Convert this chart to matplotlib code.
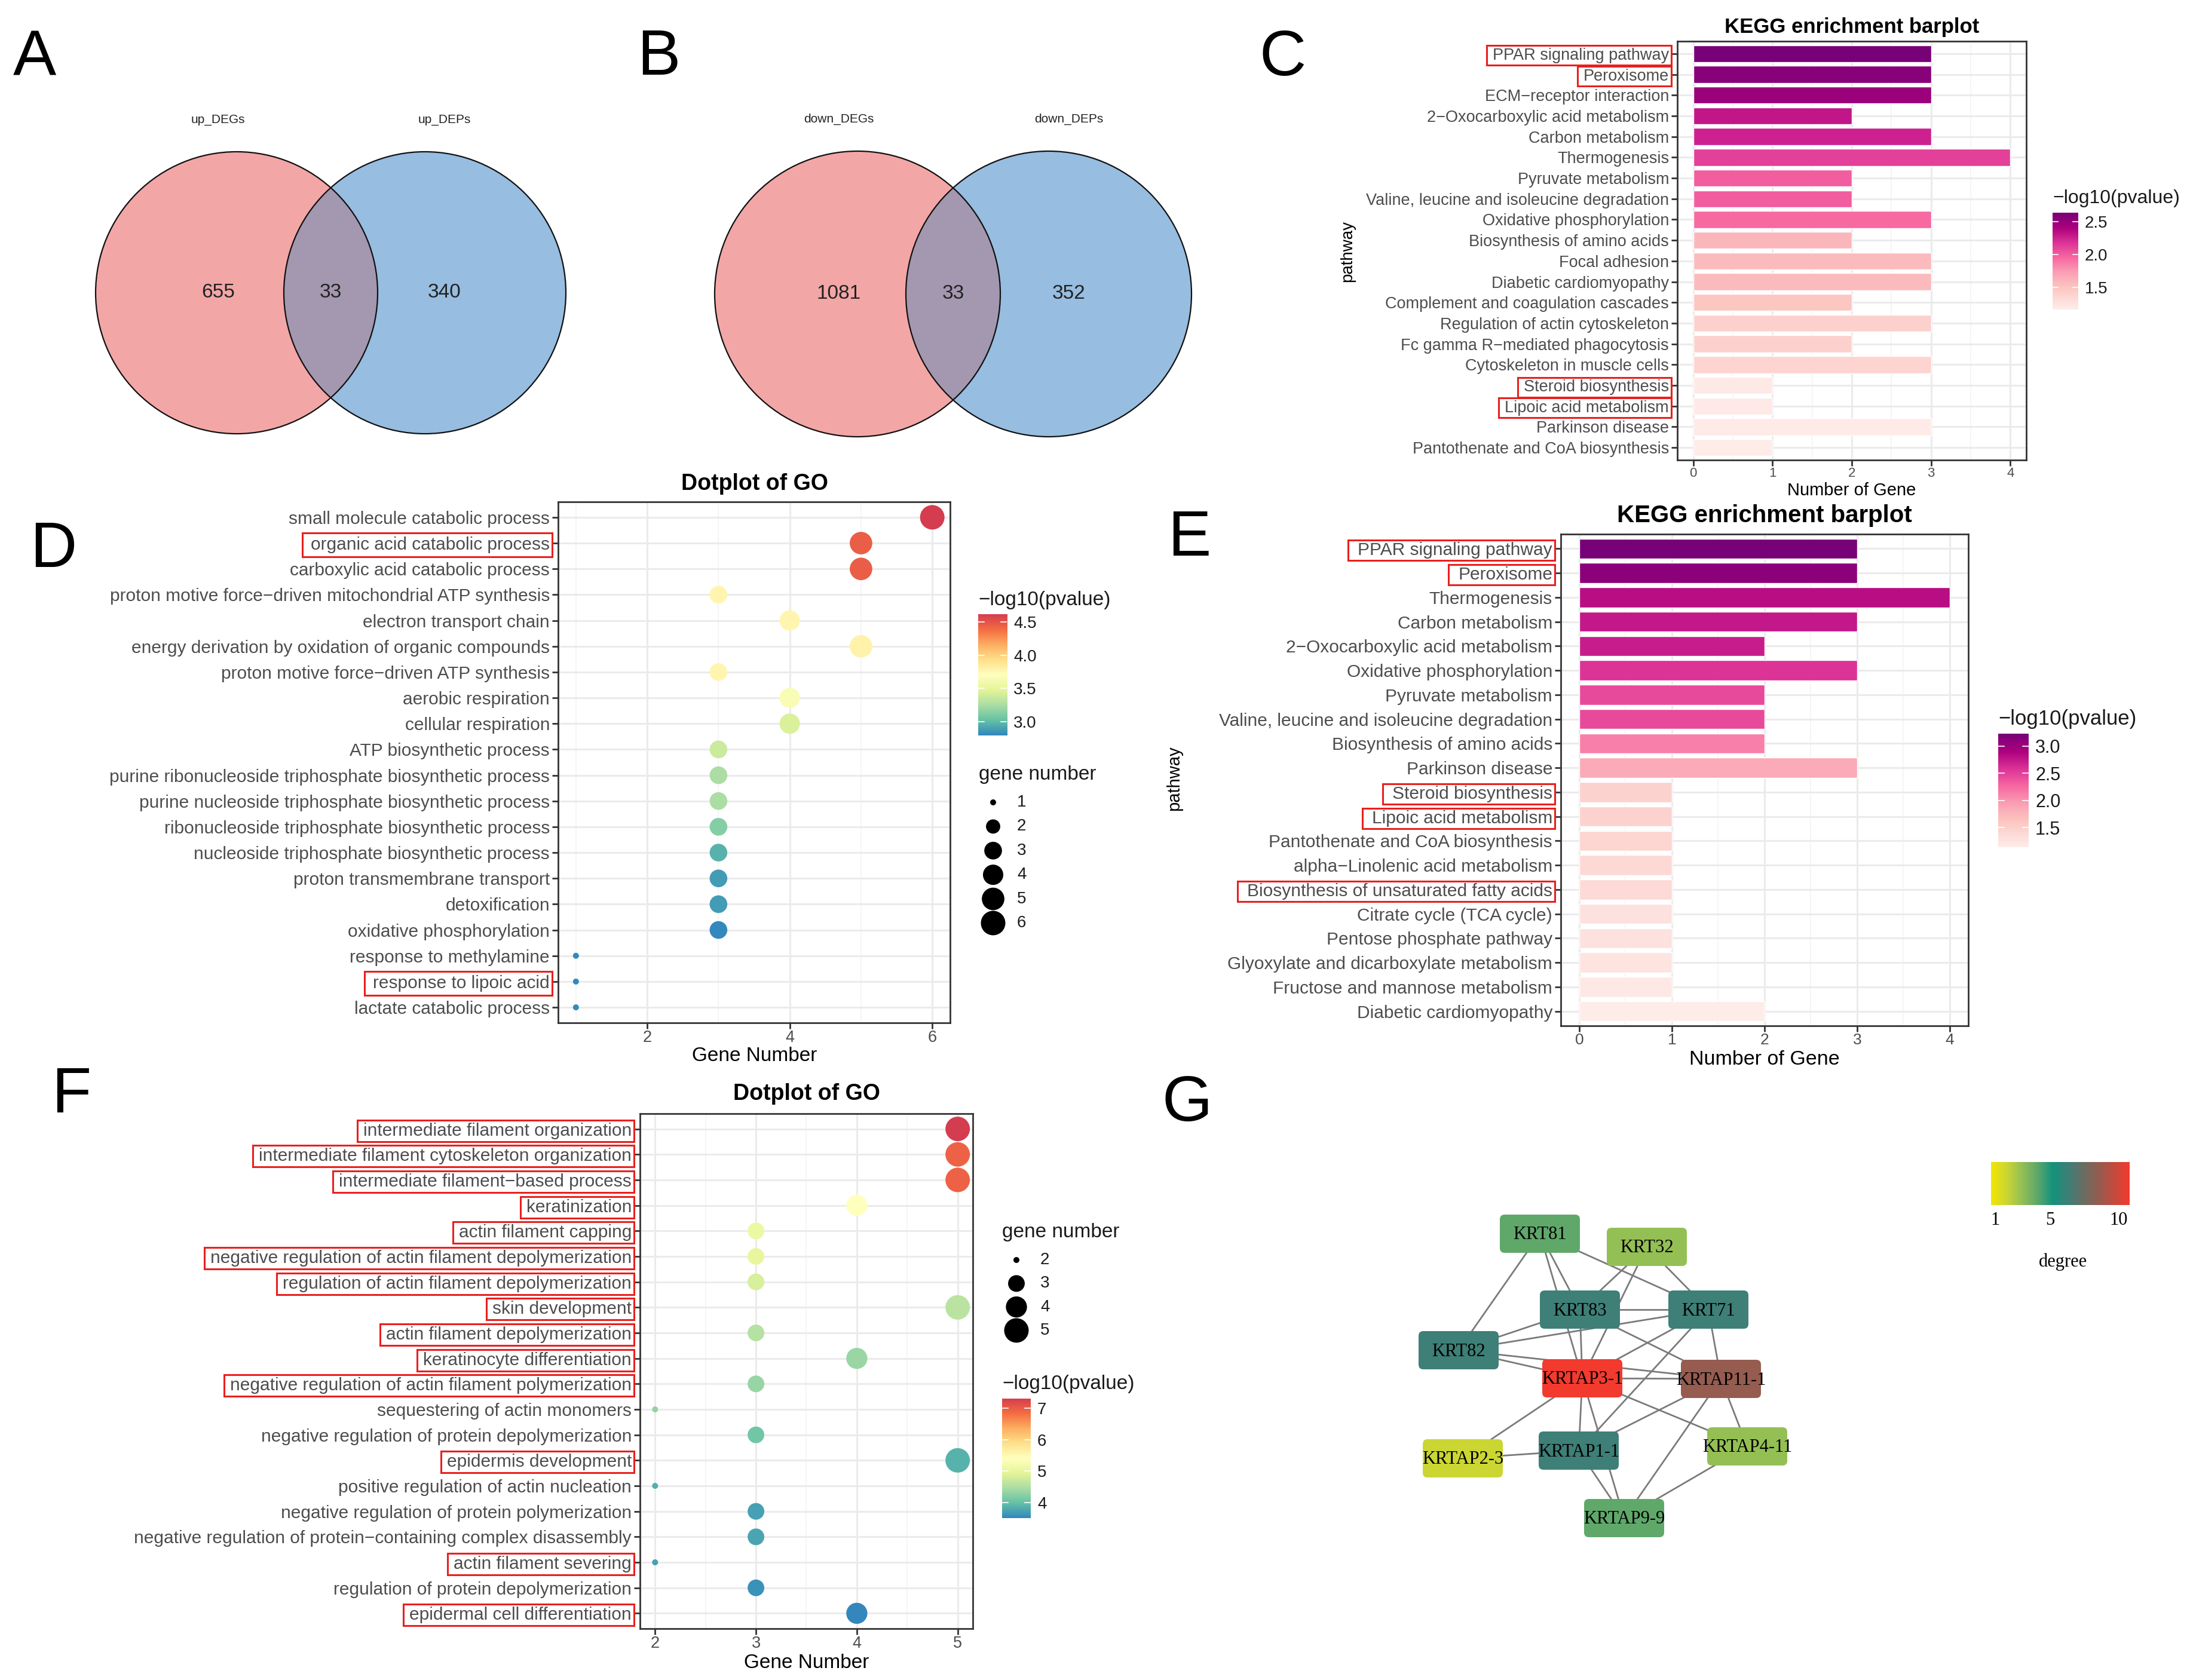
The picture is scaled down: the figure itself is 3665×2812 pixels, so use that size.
import numpy as np
import matplotlib
matplotlib.use('Agg')
import matplotlib.pyplot as plt
from matplotlib.patches import Circle, FancyBboxPatch, Rectangle
from matplotlib.colors import ListedColormap, LinearSegmentedColormap, Normalize

plt.rcParams['font.family'] = ['Liberation Sans', 'DejaVu Sans']

W, H = 3666, 2812

# ---------------- data ----------------
venn_up_sets = ['up_DEGs', 'up_DEPs']
venn_up_counts = [655, 33, 340]
venn_down_sets = ['down_DEGs', 'down_DEPs']
venn_down_counts = [1081, 33, 352]

kegg_c_terms = ['PPAR signaling pathway', 'Peroxisome', 'ECM\u2212receptor interaction',
                '2\u2212Oxocarboxylic acid metabolism', 'Carbon metabolism', 'Thermogenesis',
                'Pyruvate metabolism', 'Valine, leucine and isoleucine degradation',
                'Oxidative phosphorylation', 'Biosynthesis of amino acids', 'Focal adhesion',
                'Diabetic cardiomyopathy', 'Complement and coagulation cascades',
                'Regulation of actin cytoskeleton', 'Fc gamma R\u2212mediated phagocytosis',
                'Cytoskeleton in muscle cells', 'Steroid biosynthesis', 'Lipoic acid metabolism',
                'Parkinson disease', 'Pantothenate and CoA biosynthesis']
kegg_c_counts = [3, 3, 3, 2, 3, 4, 2, 2, 3, 2, 3, 3, 2, 3, 2, 3, 1, 1, 3, 1]
kegg_c_logp = [2.64, 2.57, 2.48, 2.31, 2.26, 2.13, 2.0, 2.0, 1.95, 1.59, 1.56, 1.56,
               1.5, 1.41, 1.41, 1.38, 1.19, 1.19, 1.18, 1.16]
kegg_c_boxed = ['PPAR signaling pathway', 'Peroxisome', 'Steroid biosynthesis',
                'Lipoic acid metabolism']

go_d_terms = ['small molecule catabolic process', 'organic acid catabolic process',
              'carboxylic acid catabolic process',
              'proton motive force\u2212driven mitochondrial ATP synthesis',
              'electron transport chain', 'energy derivation by oxidation of organic compounds',
              'proton motive force\u2212driven ATP synthesis', 'aerobic respiration',
              'cellular respiration', 'ATP biosynthetic process',
              'purine ribonucleoside triphosphate biosynthetic process',
              'purine nucleoside triphosphate biosynthetic process',
              'ribonucleoside triphosphate biosynthetic process',
              'nucleoside triphosphate biosynthetic process', 'proton transmembrane transport',
              'detoxification', 'oxidative phosphorylation', 'response to methylamine',
              'response to lipoic acid', 'lactate catabolic process']
go_d_counts = [6, 5, 5, 3, 4, 5, 3, 4, 4, 3, 3, 3, 3, 3, 3, 3, 3, 1, 1, 1]
go_d_logp = [4.62, 4.46, 4.46, 3.78, 3.78, 3.8, 3.78, 3.65, 3.44, 3.37, 3.26, 3.25,
             3.12, 2.96, 2.87, 2.87, 2.8, 2.8, 2.8, 2.8]
go_d_boxed = ['organic acid catabolic process', 'response to lipoic acid']

kegg_e_terms = ['PPAR signaling pathway', 'Peroxisome', 'Thermogenesis', 'Carbon metabolism',
                '2\u2212Oxocarboxylic acid metabolism', 'Oxidative phosphorylation',
                'Pyruvate metabolism', 'Valine, leucine and isoleucine degradation',
                'Biosynthesis of amino acids', 'Parkinson disease', 'Steroid biosynthesis',
                'Lipoic acid metabolism', 'Pantothenate and CoA biosynthesis',
                'alpha\u2212Linolenic acid metabolism', 'Biosynthesis of unsaturated fatty acids',
                'Citrate cycle (TCA cycle)', 'Pentose phosphate pathway',
                'Glyoxylate and dicarboxylate metabolism', 'Fructose and mannose metabolism',
                'Diabetic cardiomyopathy']
kegg_e_counts = [3, 3, 4, 3, 2, 3, 2, 2, 2, 3, 1, 1, 1, 1, 1, 1, 1, 1, 1, 2]
kegg_e_logp = [3.23, 3.1, 2.82, 2.75, 2.72, 2.58, 2.44, 2.44, 2.13, 1.85, 1.47, 1.47,
               1.45, 1.39, 1.38, 1.31, 1.3, 1.26, 1.2, 1.14]
kegg_e_boxed = ['PPAR signaling pathway', 'Peroxisome', 'Steroid biosynthesis',
                'Lipoic acid metabolism', 'Biosynthesis of unsaturated fatty acids']

go_f_terms = ['intermediate filament organization',
              'intermediate filament cytoskeleton organization',
              'intermediate filament\u2212based process', 'keratinization',
              'actin filament capping', 'negative regulation of actin filament depolymerization',
              'regulation of actin filament depolymerization', 'skin development',
              'actin filament depolymerization', 'keratinocyte differentiation',
              'negative regulation of actin filament polymerization',
              'sequestering of actin monomers', 'negative regulation of protein depolymerization',
              'epidermis development', 'positive regulation of actin nucleation',
              'negative regulation of protein polymerization',
              'negative regulation of protein\u2212containing complex disassembly',
              'actin filament severing', 'regulation of protein depolymerization',
              'epidermal cell differentiation']
go_f_counts = [5, 5, 5, 4, 3, 3, 3, 5, 3, 4, 3, 2, 3, 5, 2, 3, 3, 2, 3, 4]
go_f_logp = [7.3, 6.92, 6.92, 5.4, 5.05, 5.0, 4.82, 4.59, 4.55, 4.35, 4.33, 4.28,
             4.06, 3.87, 3.83, 3.73, 3.75, 3.72, 3.6, 3.51]
go_f_boxed = ['intermediate filament organization',
              'intermediate filament cytoskeleton organization',
              'intermediate filament\u2212based process', 'keratinization',
              'actin filament capping', 'negative regulation of actin filament depolymerization',
              'regulation of actin filament depolymerization', 'skin development',
              'actin filament depolymerization', 'keratinocyte differentiation',
              'negative regulation of actin filament polymerization', 'epidermis development',
              'actin filament severing', 'epidermal cell differentiation']

ppi_nodes = ['KRT81', 'KRT32', 'KRT83', 'KRT71', 'KRT82', 'KRTAP3-1', 'KRTAP11-1',
             'KRTAP2-3', 'KRTAP1-1', 'KRTAP4-11', 'KRTAP9-9']
ppi_degree = [4, 3, 6, 6, 6, 10, 8, 2, 6, 3, 4]
ppi_edges = [('KRT81', 'KRT82'), ('KRT81', 'KRT83'), ('KRT81', 'KRTAP3-1'), ('KRT81', 'KRT71'),
             ('KRT32', 'KRT83'), ('KRT32', 'KRT71'), ('KRT32', 'KRTAP3-1'),
             ('KRT83', 'KRT71'), ('KRT83', 'KRT82'), ('KRT83', 'KRTAP3-1'),
             ('KRT83', 'KRTAP11-1'), ('KRT71', 'KRT82'), ('KRT71', 'KRTAP3-1'),
             ('KRT71', 'KRTAP1-1'), ('KRT71', 'KRTAP11-1'), ('KRT82', 'KRTAP3-1'),
             ('KRT82', 'KRTAP11-1'), ('KRTAP3-1', 'KRTAP11-1'), ('KRTAP3-1', 'KRTAP2-3'),
             ('KRTAP3-1', 'KRTAP1-1'), ('KRTAP3-1', 'KRTAP4-11'), ('KRTAP3-1', 'KRTAP9-9'),
             ('KRTAP11-1', 'KRTAP1-1'), ('KRTAP11-1', 'KRTAP9-9'), ('KRTAP11-1', 'KRTAP4-11'),
             ('KRTAP2-3', 'KRTAP1-1'), ('KRTAP1-1', 'KRTAP9-9'), ('KRTAP4-11', 'KRTAP9-9')]

# network layout (pixel centres)
ppi_pos = {'KRT81': (2577, 2065), 'KRT32': (2756, 2087), 'KRT83': (2644, 2192),
           'KRT71': (2859, 2192), 'KRT82': (2441, 2260), 'KRTAP3-1': (2648, 2307),
           'KRTAP11-1': (2880, 2308), 'KRTAP2-3': (2448, 2441), 'KRTAP1-1': (2642, 2428),
           'KRTAP4-11': (2924, 2421), 'KRTAP9-9': (2718, 2541)}

# ---------------- colours ----------------
bar_cmap = ListedColormap(plt.cm.RdPu(np.linspace(0.06, 0.88, 256)))
dot_cmap = ListedColormap(plt.cm.Spectral_r(np.linspace(0.1, 0.9, 256)))
deg_cmap = LinearSegmentedColormap.from_list('deg', [
    (0.0, '#f2e600'), (0.111, '#cbd634'), (0.222, '#93bf55'), (0.333, '#5fa86a'),
    (0.444, '#12937c'), (0.555, '#3d7f77'), (0.778, '#955c50'), (1.0, '#f23a2e')])

GRAY30 = '#4d4d4d'
fig = plt.figure(figsize=(W / 100, H / 100), dpi=100)
fig.patch.set_facecolor('white')

ov = fig.add_axes([0, 0, 1, 1])
ov.set_xlim(0, W)
ov.set_ylim(H, 0)
ov.axis('off')


def px_axes(x0, y0, x1, y1):
    return fig.add_axes([x0 / W, 1 - y1 / H, (x1 - x0) / W, (y1 - y0) / H])


def style_panel(ax, fs_tick):
    for s in ax.spines.values():
        s.set_color('#333333')
        s.set_linewidth(2)
    ax.set_axisbelow(True)
    ax.grid(True, which='major', color='#ebebeb', lw=2.2)
    ax.grid(True, which='minor', axis='x', color='#f3f3f3', lw=1.2)
    ax.tick_params(which='major', color='#333333', length=7, width=2,
                   labelcolor=GRAY30, pad=3)
    ax.tick_params(which='minor', length=0)
    ax.tick_params(axis='x', labelsize=fs_tick, pad=2)


# ---------------- panel letters ----------------
for let, (lx, ly) in zip('ABCDEFG', [(58, 99), (1102, 97), (2147, 98), (89, 921),
                                     (1990, 902), (119, 1834), (1987, 1848)]):
    ov.text(lx, ly, let, fontsize=78, ha='center', va='center',
            family=['Liberation Sans Narrow', 'Liberation Sans'])


# ---------------- Venn diagrams ----------------
def venn(cl, cr, r, sets, counts):
    left = Circle(cl, r, facecolor='#f3a6a6', edgecolor='none')
    right = Circle(cr, r, facecolor='#97bde0', edgecolor='none')
    ov.add_patch(left)
    ov.add_patch(right)
    inter = Circle(cr, r, facecolor='#a398b0', edgecolor='none')
    ov.add_patch(inter)
    inter.set_clip_path(left)
    for c in (cl, cr):
        ov.add_patch(Circle(c, r, fill=False, edgecolor='#111111', lw=1.6))
    cy = cl[1]
    xs = [cl[0] - 0.13 * r, (cl[0] + cr[0]) / 2, cr[0] + 0.14 * r]
    for x, v in zip(xs, counts):
        ov.text(x, cy, str(v), fontsize=24, ha='center', va='center', color='#222222')
    ov.text(xs[0], cy - r - 54, sets[0], fontsize=15, ha='center', va='center', color='#222222')
    ov.text(xs[2], cy - r - 54, sets[1], fontsize=15, ha='center', va='center', color='#222222')


venn((396, 490), (711, 490), 236, venn_up_sets, venn_up_counts)
venn((1435, 492), (1755, 492), 239, venn_down_sets, venn_down_counts)


# ---------------- KEGG bar plots ----------------
def kegg_bar(box, terms, counts, logp, vmin, vmax, fs_lab, fs_tick):
    ax = px_axes(*box)
    n = len(terms)
    ypos = np.arange(n)
    norm = Normalize(vmin, vmax)
    ax.barh(ypos, counts, height=0.82, color=bar_cmap(norm(np.array(logp))),
            edgecolor='white', linewidth=1, zorder=3)
    ax.set_xlim(-0.2, 4.2)
    ax.set_ylim(n - 0.4, -0.6)
    ax.set_xticks(range(5))
    ax.set_xticks(np.arange(0.5, 4, 1), minor=True)
    ax.set_yticks(ypos)
    ax.set_yticklabels(terms, fontsize=fs_lab)
    style_panel(ax, fs_tick)
    return ax


def colorbar_legend(box, cmap, vmin, vmax, ticks, title, fs_title, fs_tick, fmt):
    cax = px_axes(*box)
    grad = np.linspace(vmin, vmax, 256).reshape(-1, 1)
    cax.imshow(grad, aspect='auto', cmap=cmap, vmin=vmin, vmax=vmax, origin='lower',
               extent=[0, 1, vmin, vmax])
    for t in ticks:
        cax.plot([0, 0.2], [t, t], color='white', lw=1.2)
        cax.plot([0.8, 1], [t, t], color='white', lw=1.2)
    cax.set_xlim(0, 1)
    cax.set_ylim(vmin, vmax)
    cax.set_xticks([])
    cax.yaxis.tick_right()
    cax.set_yticks(ticks)
    cax.set_yticklabels([fmt.format(t) for t in ticks], fontsize=fs_tick, color='#1a1a1a')
    cax.tick_params(axis='y', length=0, pad=8)
    for s in cax.spines.values():
        s.set_visible(False)
    ov.text(box[0], box[1] - 24, title, fontsize=fs_title, ha='left', va='center',
            color='#1a1a1a')


ax_c = kegg_bar((2807, 69, 3391, 770), kegg_c_terms, kegg_c_counts, kegg_c_logp,
                1.16, 2.64, 19.5, 16)
ov.text(3099, 45, 'KEGG enrichment barplot', fontsize=25, weight='bold', ha='center', va='center')
ov.text(3099, 821, 'Number of Gene', fontsize=21, ha='center', va='center')
ov.text(2255, 421, 'pathway', fontsize=20, ha='center', va='center', rotation=90)
colorbar_legend((3435, 356, 3478, 518), bar_cmap, 1.16, 2.64, [1.5, 2.0, 2.5],
                '\u2212log10(pvalue)', 23, 20, '{:.1f}')

ax_e = kegg_bar((2612, 894, 3294, 1717), kegg_e_terms, kegg_e_counts, kegg_e_logp,
                1.14, 3.23, 21.5, 19)
ov.text(2953, 863, 'KEGG enrichment barplot', fontsize=29, weight='bold', ha='center', va='center')
ov.text(2953, 1774, 'Number of Gene', fontsize=24.5, ha='center', va='center')
ov.text(1965, 1303, 'pathway', fontsize=21, ha='center', va='center', rotation=90)
colorbar_legend((3344, 1228, 3395, 1418), bar_cmap, 1.14, 3.23, [1.5, 2.0, 2.5, 3.0],
                '\u2212log10(pvalue)', 25, 22, '{:.1f}')


# ---------------- GO dot plots ----------------
def dot_diam(n, nmin, nmax, dmin, dmax):
    frac = (np.asarray(n, dtype=float) - nmin) / (nmax - nmin)
    return (dmin + (dmax - dmin) * np.sqrt(frac)) * 0.72


def go_dot(box, terms, counts, logp, vmin, vmax, xlim, xticks, xminor, szr, fs_lab, fs_tick):
    ax = px_axes(*box)
    n = len(terms)
    ypos = np.arange(n)
    d = dot_diam(counts, *szr)
    ax.scatter(counts, ypos, s=d ** 2, c=logp, cmap=dot_cmap, vmin=vmin, vmax=vmax,
               zorder=3, linewidths=0)
    ax.set_xlim(*xlim)
    ax.set_ylim(n - 0.4, -0.6)
    ax.set_xticks(xticks)
    ax.set_xticks(xminor, minor=True)
    ax.set_yticks(ypos)
    ax.set_yticklabels(terms, fontsize=fs_lab)
    style_panel(ax, fs_tick)
    return ax


def size_legend(x, ytitle, y0, step, values, szr, title, fs_title, fs_tick):
    ov.text(x - 24, ytitle, title, fontsize=fs_title, ha='left', va='center', color='#1a1a1a')
    ys = [y0 + step * i for i in range(len(values))]
    ov.scatter([x] * len(values), ys, s=dot_diam(values, *szr) ** 2, color='black',
               linewidths=0)
    for yy, v in zip(ys, values):
        ov.text(x + 40, yy, str(v), fontsize=fs_tick, ha='left', va='center', color='#1a1a1a')


ax_d = go_dot((934, 840, 1590, 1712), go_d_terms, go_d_counts, go_d_logp, 2.79, 4.62,
              (0.75, 6.25), [2, 4, 6], [1, 3, 5], (1, 6, 10, 41), 21.5, 19.5)
ov.text(1263, 810, 'Dotplot of GO', fontsize=27, weight='bold', ha='center', va='center')
ov.text(1263, 1768, 'Gene Number', fontsize=24, ha='center', va='center')
colorbar_legend((1637, 1028, 1685, 1231), dot_cmap, 2.79, 4.62, [3.0, 3.5, 4.0, 4.5],
                '\u2212log10(pvalue)', 24, 20, '{:.1f}')
size_legend(1662, 1296, 1343, 40.4, [1, 2, 3, 4, 5, 6], (1, 6, 10, 41), 'gene number', 24, 20)

ax_f = go_dot((1071, 1864, 1628, 2726), go_f_terms, go_f_counts, go_f_logp, 3.51, 7.3,
              (1.85, 5.15), [2, 3, 4, 5], [2.5, 3.5, 4.5], (2, 5, 10, 41), 21.5, 19.5)
ov.text(1350, 1831, 'Dotplot of GO', fontsize=27, weight='bold', ha='center', va='center')
ov.text(1350, 2783, 'Gene Number', fontsize=24, ha='center', va='center')
colorbar_legend((1677, 2341, 1725, 2541), dot_cmap, 3.51, 7.3, [4, 5, 6, 7],
                '\u2212log10(pvalue)', 24, 20, '{:d}')
size_legend(1701, 2063, 2109, 39.3, [2, 3, 4, 5], (2, 5, 10, 41), 'gene number', 24, 20)

# ---------------- PPI network ----------------
for a, b in ppi_edges:
    (x1, y1), (x2, y2) = ppi_pos[a], ppi_pos[b]
    ov.plot([x1, x2], [y1, y2], color='#7a7a7a', lw=2, zorder=2)
deg_norm = Normalize(1, 10)
for name, deg in zip(ppi_nodes, ppi_degree):
    cx, cy = ppi_pos[name]
    ov.add_patch(FancyBboxPatch((cx - 63, cy - 28), 126, 56,
                                boxstyle='round,pad=4,rounding_size=8',
                                facecolor=deg_cmap(deg_norm(deg)), edgecolor='none', zorder=3))
    ov.text(cx, cy + 2, name, fontsize=22, ha='center', va='center', zorder=4,
            family=['Liberation Serif', 'DejaVu Serif'])

grad = np.linspace(0, 1, 256).reshape(1, -1)
ov.imshow(grad, cmap=deg_cmap, aspect='auto', extent=[3332, 3564, 2017, 1945], zorder=2)
for v in [1, 5, 10]:
    ov.text(3339 + (v - 1) / 9 * 207, 2043, str(v), fontsize=22, ha='center', va='center',
            family=['Liberation Serif', 'DejaVu Serif'])
ov.text(3452, 2112, 'degree', fontsize=22, ha='center', va='center',
        family=['Liberation Serif', 'DejaVu Serif'])
ov.set_xlim(0, W)
ov.set_ylim(H, 0)

# ---------------- red highlight boxes ----------------
fig.canvas.draw()
renderer = fig.canvas.get_renderer()


def box_labels(ax, boxed, pad_l, h):
    for lab in ax.get_yticklabels():
        if lab.get_text() in boxed:
            bb = lab.get_window_extent(renderer)
            x0 = bb.x0 - pad_l
            x1 = bb.x1 + 4
            yc = (bb.y0 + bb.y1) / 2
            fig.add_artist(Rectangle((x0 / W, (yc - h / 2) / H), (x1 - x0) / W, h / H,
                                     transform=fig.transFigure, fill=False,
                                     edgecolor='#e8201e', lw=2.2))


box_labels(ax_c, kegg_c_boxed, 10, 33)
box_labels(ax_d, go_d_boxed, 14, 40)
box_labels(ax_e, kegg_e_boxed, 16, 34)
box_labels(ax_f, go_f_boxed, 10, 36)

fig.savefig('out.png', dpi=100, facecolor='white')
